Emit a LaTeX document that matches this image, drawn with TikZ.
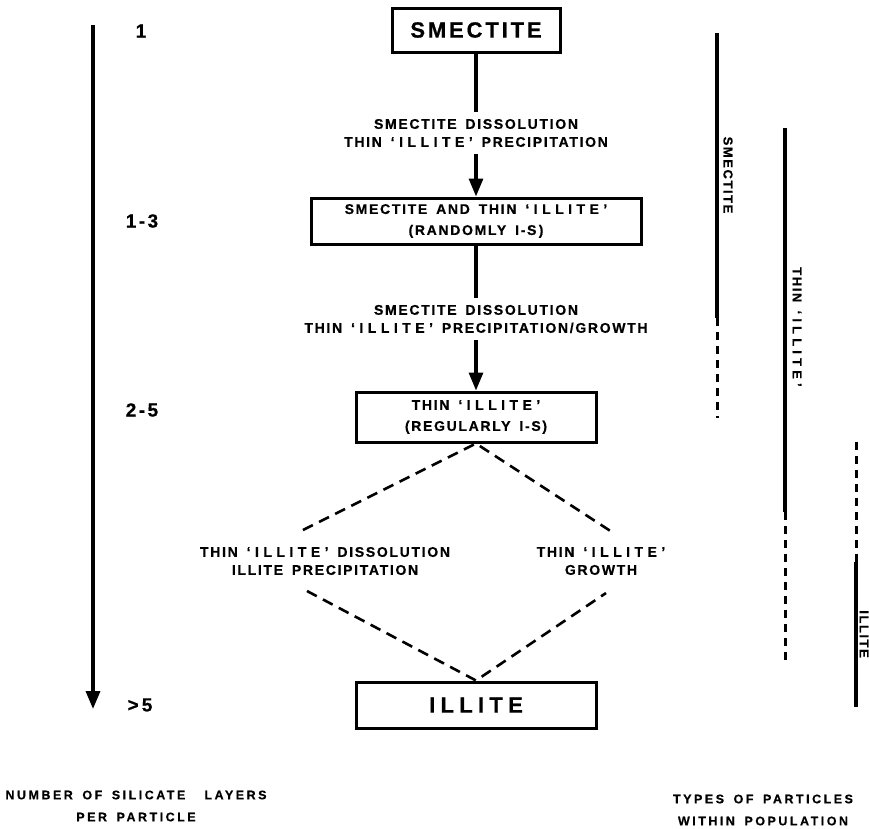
\documentclass[tikz,border=0pt]{standalone}
\usepackage{fontspec}
\setmainfont{Liberation Sans}
\newfontfamily\spacedbf{Liberation Sans Bold}[LetterSpace=12, WordSpace=1.6, FakeBold=0.6]
\newfontfamily\quotedbf{Liberation Sans Bold}[LetterSpace=32, FakeBold=0.6]
\newfontfamily\bigbf{Liberation Sans Bold}[LetterSpace=13, FakeBold=0.6]
\newfontfamily\openbf{Liberation Sans Bold}[LetterSpace=24, FakeBold=0.6]
\newfontfamily\widebf{Liberation Sans Bold}[LetterSpace=20, WordSpace=1.6, FakeBold=0.4]
\newcommand\illq{{\quotedbf ‘ILLITE’}}
\usetikzlibrary{arrows.meta}

\begin{document}
\begin{tikzpicture}[x=1pt, y=-1pt, >={Triangle[width=14pt,length=18pt]},
  stagebox/.style={draw, line width=3pt, inner sep=0pt, align=center, font=\spacedbf\fontsize{14}{21}\selectfont},
  procnote/.style={inner sep=0pt, outer sep=7pt, align=center, font=\spacedbf\fontsize{14}{18}\selectfont},
  countnote/.style={inner sep=0pt, font=\bigbf\fontsize{19}{22}\selectfont},
  bandline/.style={line width=3.4pt},
  bandgap/.style={line width=3pt, dash pattern=on 8pt off 6pt},
  bandtext/.style={inner sep=0pt, rotate=-90, font=\spacedbf\fontsize{13}{15}\selectfont},
  splitline/.style={line width=2.6pt, dash pattern=on 11pt off 7pt},
  axisnote/.style={inner sep=0pt, align=center, font=\widebf\fontsize{12.5}{22}\selectfont}]
  \useasboundingbox (0,0) rectangle (869,828);

  % size axis
  \coordinate (axtop) at (93,25);
  \coordinate (axend) at (93,709);
  \draw[->, line width=3.4pt] (axtop) -- (axend);
  \node[countnote] (n1) at (141,31) {1};
  \node[countnote] (n2) at (142,221) {1-3};
  \node[countnote] (n3) at (142,410) {2-5};
  \node[countnote] (n4) at (140,705) {>\,5};

  % stages
  \node[stagebox, minimum width=168pt, minimum height=44pt, font=\bigbf\fontsize{22}{24}\selectfont] (smec) at (476,30) {SMECTITE};
  \node[procnote] (step1) at (476,133) {SMECTITE DISSOLUTION\\THIN \illq\ PRECIPITATION};
  \node[stagebox, minimum width=330pt, minimum height=46pt] (mixed) at (476,221) {SMECTITE AND THIN \illq\\(RANDOMLY I-S\,)};
  \node[procnote] (step2) at (476,319) {SMECTITE DISSOLUTION\\THIN \illq\ PRECIPITATION/GROWTH};
  \node[stagebox, minimum width=240pt, minimum height=50pt] (thin) at (476,417) {THIN \illq\\(REGULARLY I-S)};
  \node[procnote] (dissol) at (325,561) {THIN \illq\ DISSOLUTION\\ILLITE PRECIPITATION};
  \node[procnote] (growth) at (601,561) {THIN \illq\\GROWTH};
  \node[stagebox, minimum width=240pt, minimum height=46pt, font=\openbf\fontsize{22}{24}\selectfont] (illite) at (476,705) {ILLITE};

  \draw[line width=3.2pt] (smec) -- (step1);
  \draw[->, line width=3.2pt] (step1) -- (mixed);
  \draw[line width=3.2pt] (mixed) -- (step2);
  \draw[->, line width=3.2pt] (step2) -- (thin);

  \coordinate (ul) at (303,530);
  \coordinate (ur) at (612,532);
  \coordinate (ll) at (307,591);
  \coordinate (lr) at (606,593);
  \draw[splitline] (ul) -- (thin.south) -- (ur);
  \draw[splitline] (ll) -- (illite.north) -- (lr);

  % particle types
  \coordinate (smA) at (717,33);
  \coordinate (smB) at (717,318);
  \coordinate (smC) at (717,418);
  \draw[bandline] (smA) -- (smB);
  \draw[bandgap] (smB) -- (smC);
  \node[bandtext] (smlab) at (728,175) {SMECTITE};

  \coordinate (thA) at (785,128);
  \coordinate (thB) at (785,512);
  \coordinate (thC) at (785,665);
  \draw[bandline] (thA) -- (thB);
  \draw[bandgap] (thB) -- (thC);
  \node[bandtext] (thlab) at (797,327) {THIN \illq};

  \coordinate (ilA) at (856,442);
  \coordinate (ilB) at (856,562);
  \coordinate (ilC) at (856,707);
  \draw[bandgap] (ilA) -- (ilB);
  \draw[bandline] (ilB) -- (ilC);
  \node[bandtext] (illab) at (864,634) {ILLITE};

  % axis captions
  \node[axisnote] (laycap) at (136,806) {NUMBER OF SILICATE\ \ LAYERS\\PER PARTICLE};
  \node[axisnote] (typcap) at (763,810) {TYPES OF PARTICLES\\WITHIN POPULATION};
\end{tikzpicture}
\end{document}
